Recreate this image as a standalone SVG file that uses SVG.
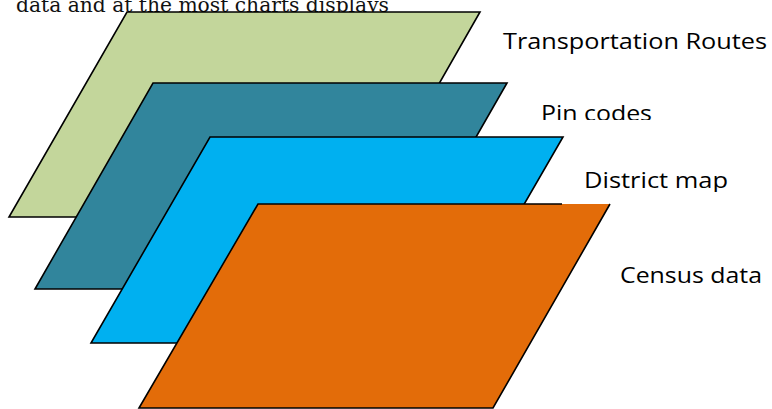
<svg xmlns="http://www.w3.org/2000/svg" width="772" height="409" viewBox="0 0 772 409">
<style>
.layer{stroke:#000;stroke-width:1.6;stroke-linejoin:miter}
.lbl{font-family:"Open Sans","Liberation Sans",Arial,sans-serif;font-size:22px;fill:#000}
.top{font-family:"DejaVu Serif","Liberation Serif",serif;font-size:20px;fill:#111}
</style>
<defs>
<clipPath id="clipPin"><rect x="530" y="90" width="140" height="30"/></clipPath>
<clipPath id="clipDist"><rect x="570" y="160" width="170" height="32"/></clipPath>
</defs>
<text class="top" x="16" y="12" textLength="373" lengthAdjust="spacingAndGlyphs">data and at the most charts displays</text>
<g id="transportation-routes">
<polygon class="layer" points="127,12 480,12 363,217 9,217" fill="#C3D69B"/>
<text class="lbl" x="503" y="49" textLength="264" lengthAdjust="spacingAndGlyphs">Transportation Routes</text>
</g>
<g id="pin-codes">
<polygon class="layer" points="153,83 507,83 389,289 35,289" fill="#31859C"/>
<text class="lbl" x="541" y="121" textLength="111" lengthAdjust="spacingAndGlyphs" clip-path="url(#clipPin)">Pin codes</text>
</g>
<g id="district-map">
<polygon class="layer" points="210,137 563,137 444,343 91,343" fill="#00B0F0"/>
<text class="lbl" x="584" y="188" textLength="144" lengthAdjust="spacingAndGlyphs" clip-path="url(#clipDist)">District map</text>
</g>
<g id="census-data">
<polygon points="258,204 610,204 493,408 139,408" fill="#E36C09"/>
<polyline class="layer" fill="none" points="562,204 258,204 139,408 493,408 610,204"/>
<text class="lbl" x="620" y="283" textLength="142" lengthAdjust="spacingAndGlyphs">Census data</text>
</g>
</svg>
